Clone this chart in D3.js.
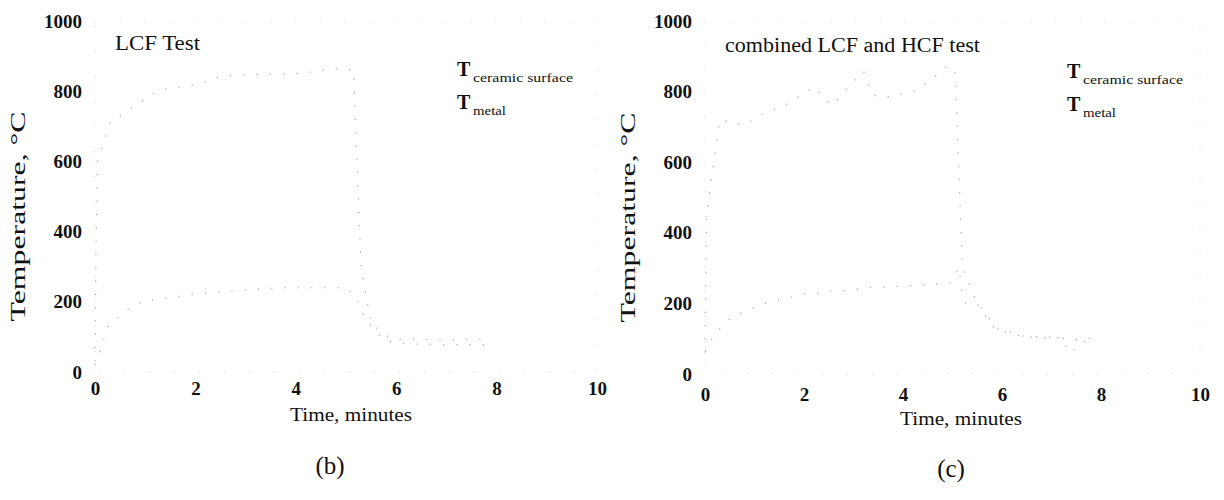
<!DOCTYPE html>
<html>
<head>
<meta charset="utf-8">
<script src="https://cdn.jsdelivr.net/npm/d3@7"></script>
<style>
  body { margin: 0; background: #fff; }
  svg text { font-family: "Liberation Serif", "Times New Roman", serif; fill: #111; }
</style>
</head>
<body>
<svg id="chart" width="1224" height="500"></svg>
<script>
// tick labels
const xTicks = [0, 2, 4, 6, 8, 10];
const yTicks = [0, 200, 400, 600, 800, 1000];

// (b) LCF test
const lcfTime = [0, 0.02, 0.05, 0.3, 0.8, 1.3, 2.1, 2.5, 3.2, 4.1, 4.9, 5.15, 5.3, 5.5, 5.9, 6.3, 7.0, 7.6, 7.9];
const lcfCeramic = [30, 350, 600, 710, 760, 805, 820, 843, 848, 851, 866, 860, 300, 137, 95, 94, 92, 94, 90];
const lcfMetalTime = [0, 0.26, 0.54, 0.7, 1.0, 1.3, 2.0, 3.27, 3.84, 4.1, 5.0, 5.2, 5.3, 5.4, 5.7, 5.9, 6.3, 7.0, 7.9];
const lcfMetal = [20, 129, 166, 183, 203, 208, 222, 237, 240, 240, 240, 215, 177, 149, 100, 85, 80, 78, 78];

// (c) combined LCF and HCF test
const combTime = [0, 0.03, 0.3, 0.77, 1.2, 1.6, 2.2, 2.56, 3.2, 3.4, 3.6, 4.3, 4.9, 5.05, 5.2, 5.5, 5.9, 6.4, 7.0, 7.6, 7.9];
const combCeramic = [60, 450, 720, 704, 740, 760, 813, 760, 858, 790, 782, 804, 872, 860, 300, 200, 130, 108, 104, 96, 104];
const combMetalTime = [0, 0.2, 0.5, 0.9, 1.25, 1.66, 2.0, 2.27, 2.5, 2.93, 3.37, 3.94, 4.5, 4.95, 5.13, 5.2, 5.26, 5.5, 5.8, 5.9, 6.2, 6.4, 6.8, 7.2, 7.37, 7.7, 7.9];
const combMetal = [64, 115, 156, 184, 201, 215, 226, 229, 235, 237, 246, 248, 254, 257, 300, 221, 201, 198, 137, 126, 115, 106, 103, 103, 59, 95, 103];

const svg = d3.select("#chart");

const panels = [
  { x0: 95, x1: 597, y0: 372, y1: 21, dy: 0, title: "LCF Test", titleX: 115, titleY: 50, titleW: 85,
    legX: 457, legY: 76, label: "(b)", labelX: 330, labelY: 474,
    series: [[lcfTime, lcfCeramic], [lcfMetalTime, lcfMetal]] },
  { x0: 705, x1: 1200, y0: 374, y1: 21, dy: 4, title: "combined LCF and HCF test", titleX: 725, titleY: 52, titleW: 255,
    legX: 1067, legY: 78, label: "(c)", labelX: 951, labelY: 477,
    series: [[combTime, combCeramic], [combMetalTime, combMetal]] }
];

panels.forEach(function(p) {
  const x = d3.scaleLinear().domain([0, 10]).range([p.x0, p.x1]);
  const y = d3.scaleLinear().domain([0, 1000]).range([p.y0, p.y1]);
  const g = svg.append("g");

  // faint dotted frame, as left by the scan
  g.append("rect")
    .attr("x", x(0)).attr("y", y(1000))
    .attr("width", x(10) - x(0)).attr("height", y(0) - y(1000))
    .attr("fill", "none")
    .attr("stroke", "#d0d0d0")
    .attr("stroke-width", 1)
    .attr("stroke-dasharray", "1 24");

  const xAxis = g.append("g")
    .attr("transform", "translate(0," + (p.y0 + p.dy) + ")")
    .call(d3.axisBottom(x).tickValues(xTicks).tickFormat(d3.format("d")).tickSize(0).tickPadding(10));
  const yAxis = g.append("g")
    .attr("transform", "translate(" + p.x0 + ",0)")
    .call(d3.axisLeft(y).tickValues(yTicks).tickFormat(d3.format("d")).tickSize(0).tickPadding(13));
  [xAxis, yAxis].forEach(function(a) {
    a.select(".domain").remove();
    a.selectAll("text")
      .style("font-family", "'Liberation Serif', serif")
      .style("font-size", "19px")
      .style("font-weight", "bold")
      .attr("fill", "#111");
  });

  // traces: faint, broken dotted curves
  const line = d3.line()
    .x(function(d) { return x(d[0]); })
    .y(function(d) { return y(d[1]); });
  p.series.forEach(function(s) {
    const pts = s[0].map(function(t, i) { return [t, s[1][i]]; });
    g.append("path")
      .datum(pts)
      .attr("d", line)
      .attr("fill", "none")
      .attr("stroke", "#aaa")
      .attr("stroke-width", 1.2)
      .attr("stroke-dasharray", "1.3 12");
  });

  g.append("text")
    .attr("x", p.titleX).attr("y", p.titleY)
    .attr("textLength", p.titleW).attr("lengthAdjust", "spacingAndGlyphs")
    .style("font-size", "20px")
    .text(p.title);

  // legend labels
  const leg = [["ceramic surface", 0, 100], ["metal", 33, 33]];
  leg.forEach(function(l) {
    g.append("text")
      .attr("x", p.legX).attr("y", p.legY + l[1])
      .style("font-size", "20px").style("font-weight", "bold")
      .text("T");
    g.append("text")
      .attr("x", p.legX + 16).attr("y", p.legY + l[1] + 6)
      .attr("textLength", l[2]).attr("lengthAdjust", "spacingAndGlyphs")
      .style("font-size", "13px")
      .text(l[0]);
  });

  g.append("text")
    .attr("x", p.x0 + 195).attr("y", 421 + p.dy)
    .attr("textLength", 122).attr("lengthAdjust", "spacingAndGlyphs")
    .style("font-size", "19px")
    .text("Time, minutes");

  g.append("text")
    .attr("transform", "translate(" + (p.x0 - 70) + "," + ((p.y0 + p.y1) / 2 + 20) + ") rotate(-90)")
    .attr("text-anchor", "middle")
    .attr("textLength", 210).attr("lengthAdjust", "spacingAndGlyphs")
    .style("font-size", "20px")
    .text("Temperature, °C");

  g.append("text")
    .attr("x", p.labelX).attr("y", p.labelY)
    .attr("text-anchor", "middle")
    .style("font-size", "25px")
    .text(p.label);
});
</script>
</body>
</html>
